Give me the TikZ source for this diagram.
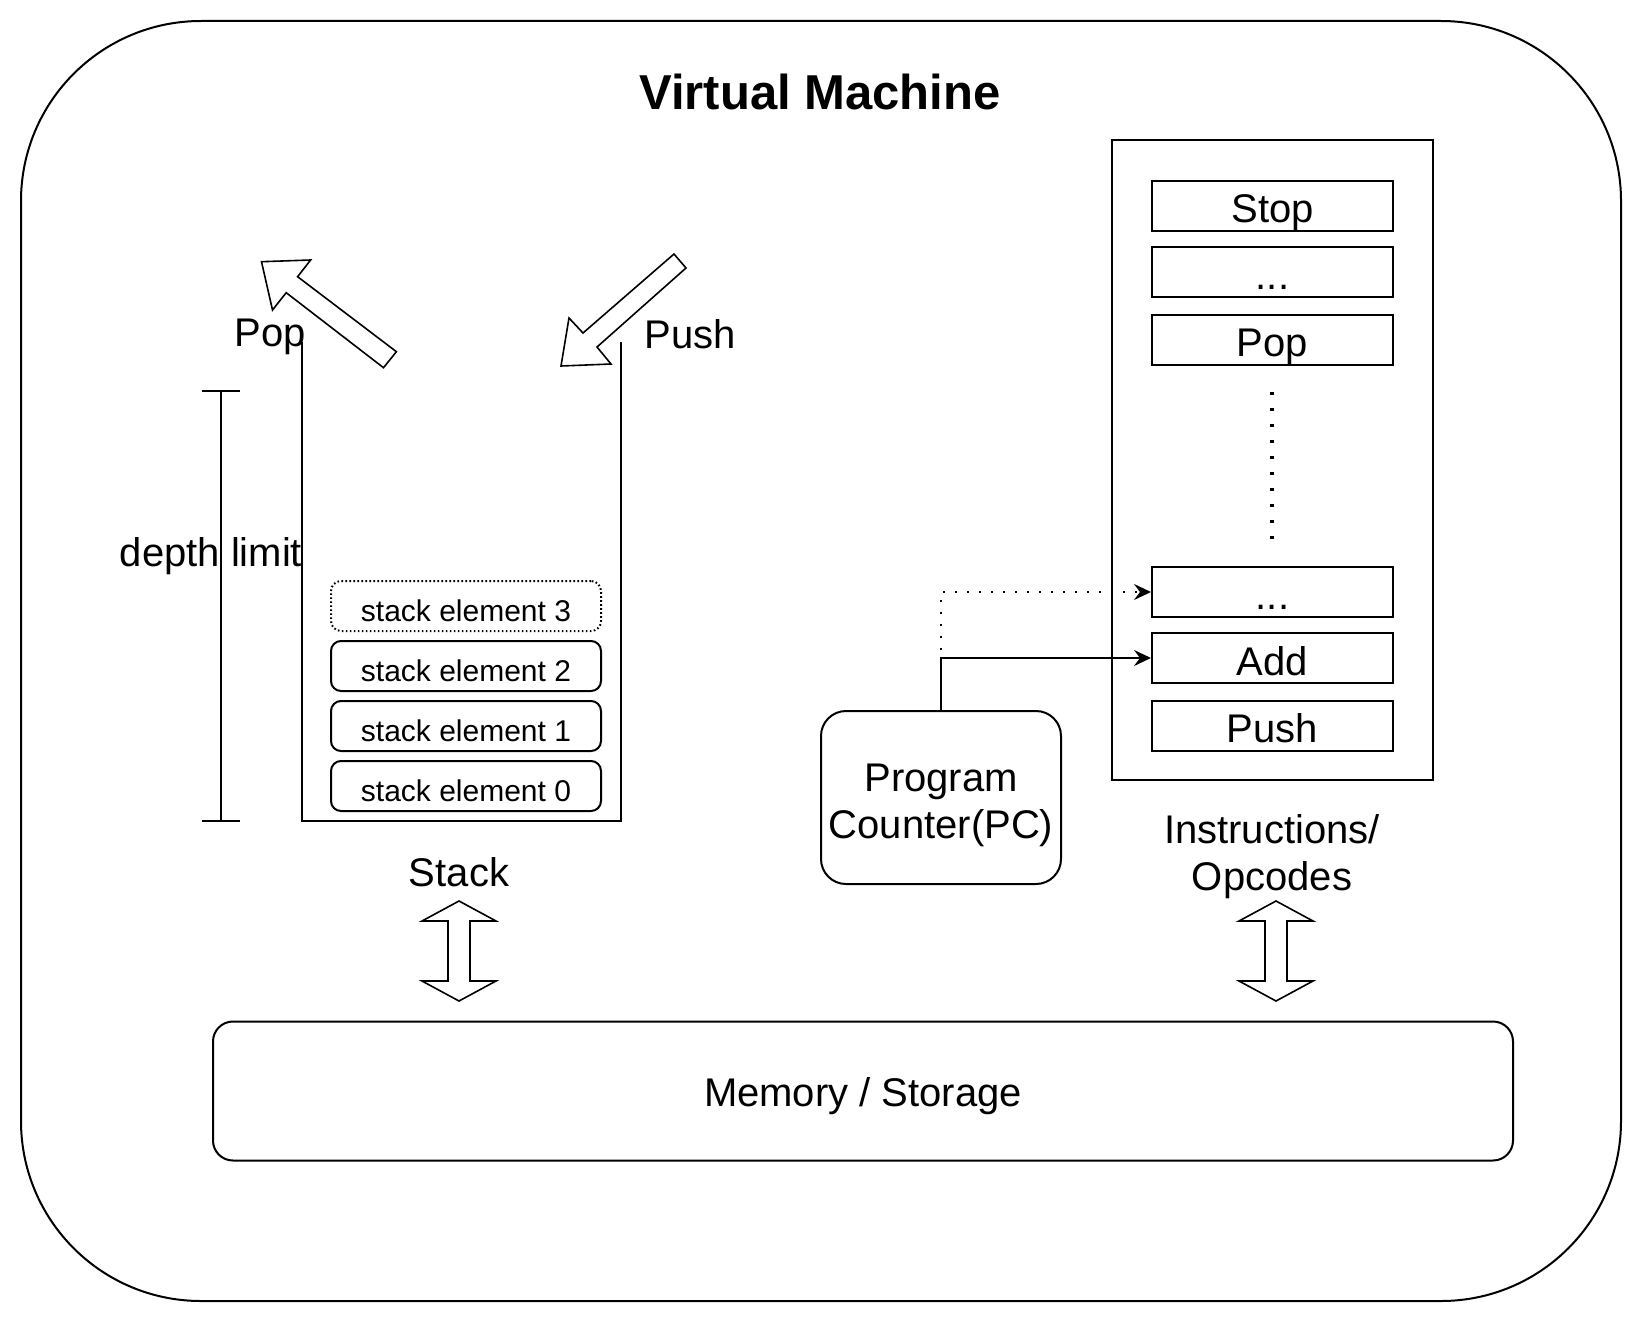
\documentclass[tikz,border=0pt]{standalone}
\usepackage{fontspec}
\setmainfont{Liberation Sans}
\usetikzlibrary{arrows.meta}
\begin{document}
\begin{tikzpicture}[x=0.5pt,y=-0.5pt,
  lw/.style={line width=1pt},
  instr/.style={draw,lw,minimum width=120.5pt,minimum height=25pt,inner sep=0pt,
    font=\fontsize{20}{24}\selectfont,text height=18pt,text depth=1pt},
  stackel/.style={draw,lw,rounded corners=5pt,minimum width=135pt,minimum height=25pt,
    inner sep=0pt,font=\fontsize{15}{18}\selectfont,text height=16pt,text depth=1pt},
  lbl/.style={font=\fontsize{20}{23.5}\selectfont,inner sep=0pt,align=center},
  blockarrow/.style={draw,line width=0.8pt,fill=white,line join=miter},
  pcarrow/.style={lw,-{Stealth[length=8.5pt,width=8pt,inset=3pt]}},
  pcdots/.style={lw,dash pattern=on 1pt off 5pt,-{Stealth[length=8.5pt,width=8pt,inset=3pt]}},
  bigdots/.style={line width=1.6pt,dash pattern=on 1.6pt off 6.4pt}
]
\useasboundingbox (0,0) rectangle (1642,1322);

% outer machine
\draw[lw,rounded corners=90pt] (21,21) rectangle (1621,1301);
\node[font=\fontsize{24.5}{29}\selectfont\bfseries,inner sep=0pt] (title) at (820,92) {Virtual Machine};

% instruction container
\draw[lw] (1112,140) rectangle (1433,780);
\node[instr] (stop) at (1272.5,205.5) {Stop};
\node[instr] (dotsA) at (1272.5,272) {...};
\node[instr] (ipop) at (1272.5,339.5) {Pop};
\node[instr] (dotsB) at (1272.5,592) {...};
\node[instr] (add) at (1272.5,658) {Add};
\node[instr] (ipush) at (1272.5,725.5) {Push};
\coordinate (vdtop) at (1272,392);
\coordinate (vdbot) at (1272,539);
\draw[bigdots] (vdtop) -- (vdbot);
\node[lbl] (instrlbl) at (1272,857) {Instructions/\\Opcodes};

% program counter
\node[draw,lw,rounded corners=12.5pt,minimum width=120pt,minimum height=86.5pt,
  inner sep=0pt] (pc) at (941,797.5) {};
\node[lbl] (pctext) at (941,805) {Program\\Counter(PC)};
\draw[pcdots] (pc.north) |- (dotsB.west);
\draw[pcarrow] (pc.north) |- (add.west);

% stack container
\coordinate (stl) at (302,342);
\coordinate (str) at (621,342);
\draw[lw] (stl) -- (302,821) -- (621,821) -- (str);
\node[stackel,dash pattern=on 0.8pt off 1.2pt] (s3) at (466,606) {stack element 3};
\node[stackel] (s2) at (466,666) {stack element 2};
\node[stackel] (s1) at (466,726) {stack element 1};
\node[stackel] (s0) at (466,786) {stack element 0};
\node[lbl] (stacklbl) at (459,872) {Stack};

% depth limit bracket
\coordinate (dtop) at (221,391);
\coordinate (dbot) at (221,821);
\draw[lw] (dtop) -- (dbot);
\draw[lw] (202,391) -- (240,391);
\draw[lw] (202,821) -- (240,821);
\node[lbl] (depth) at (211,556) {depth limit};

% pop / push labels and arrows
\node[lbl] (poplbl) at (270,337) {Pop};
\draw[blockarrow] (261.5,261.7) -- (310.6,260) -- (297.6,276.7) -- (396.4,351.7)
  -- (383.5,367.7) -- (286.2,292.7) -- (272.5,310) -- cycle;
\draw[blockarrow] (561,366) -- (569,318) -- (583,333) -- (674,254) -- (686,268)
  -- (597,347) -- (611,364) -- cycle;
\node[lbl] (pushlbl) at (690,334) {Push};

% memory
\node[draw,lw,rounded corners=10pt,minimum width=650pt,minimum height=69.5pt,
  font=\fontsize{20}{24}\selectfont,text height=17pt,text depth=2pt,inner sep=0pt]
  (mem) at (863,1091) {Memory / Storage};

% double arrows
\foreach \cx in {459,1276}{
  \draw[blockarrow] (\cx,901) -- (\cx+37,921) -- (\cx+11,921) -- (\cx+11,981)
    -- (\cx+37,981) -- (\cx,1001) -- (\cx-37,981) -- (\cx-11,981) -- (\cx-11,921)
    -- (\cx-37,921) -- cycle;
}
\end{tikzpicture}
\end{document}
